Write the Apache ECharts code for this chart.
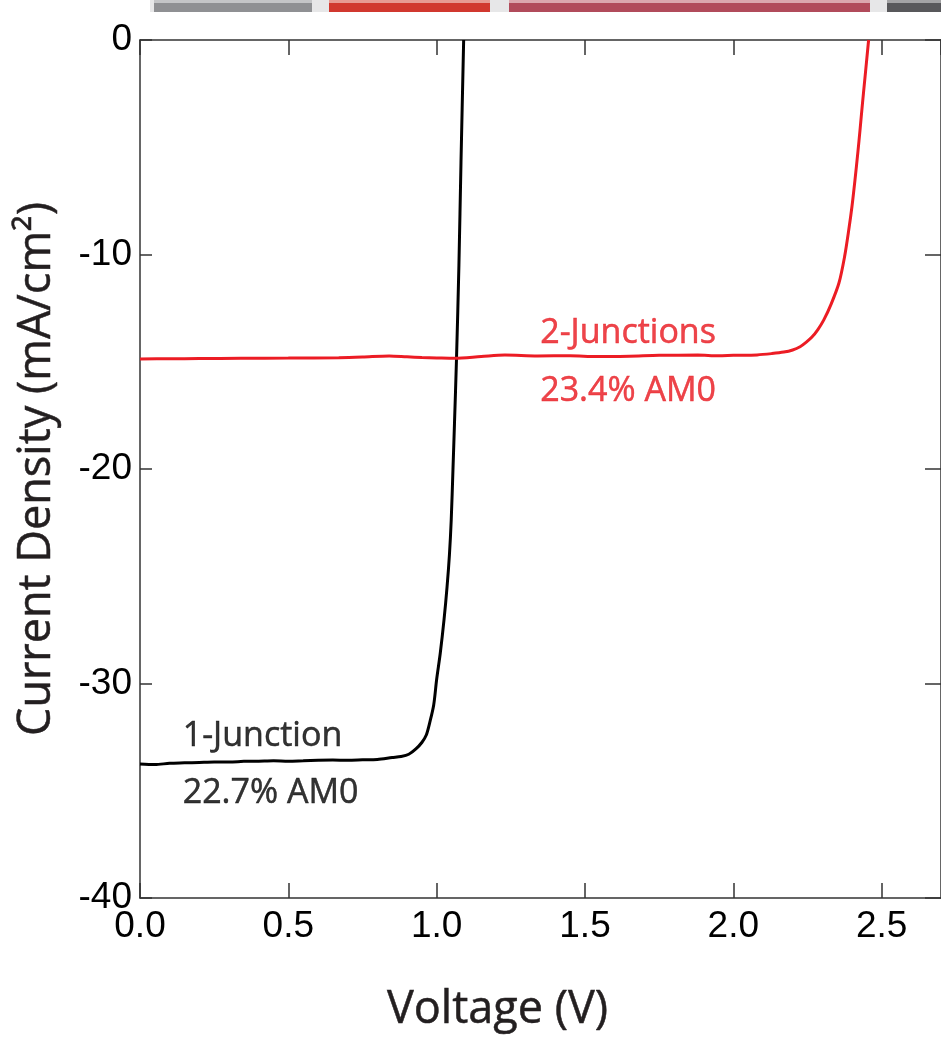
<!DOCTYPE html>
<html>
<head>
    <meta charset="utf-8">
    <title>J-V curves</title>
    <script src="https://cdn.jsdelivr.net/npm/echarts@6/dist/echarts.min.js"></script>
    <style>
        html, body { margin: 0; padding: 0; background: #fff; }
        #main { width: 941px; height: 1039px; }
    </style>
</head>
<body>
<div id="main"></div>
<script type="text/javascript">
  // 1-Junction curve (voltage V, current density mA/cm2)
  var oneJuncV = [0.00, 0.05, 0.10, 0.15, 0.20, 0.25, 0.30, 0.35, 0.40, 0.45, 0.50, 0.55, 0.60, 0.65, 0.70, 0.75, 0.80, 0.85, 0.88, 0.906, 0.93, 0.95, 0.965, 0.977, 0.99, 1.000, 1.012, 1.025, 1.035, 1.043, 1.049, 1.055, 1.060, 1.067, 1.075, 1.082, 1.091];
  var oneJuncJ = [-33.75, -33.78, -33.72, -33.70, -33.68, -33.66, -33.66, -33.63, -33.62, -33.60, -33.62, -33.60, -33.58, -33.57, -33.58, -33.56, -33.54, -33.45, -33.40, -33.30, -33.05, -32.75, -32.40, -31.80, -31.00, -29.80, -28.60, -27.00, -25.50, -24.00, -22.40, -20.00, -17.90, -14.80, -10.50, -5.70, 0];

  // 2-Junctions curve
  var twoJuncV = [0.00, 0.10, 0.20, 0.34, 0.50, 0.67, 0.75, 0.84, 0.90, 0.95, 1.00, 1.06, 1.15, 1.23, 1.34, 1.45, 1.54, 1.65, 1.75, 1.88, 1.95, 2.00, 2.08, 2.13, 2.17, 2.20, 2.225, 2.245, 2.265, 2.285, 2.305, 2.33, 2.356, 2.375, 2.389, 2.40, 2.41, 2.42, 2.427, 2.435, 2.443, 2.456];
  var twoJuncJ = [-14.87, -14.86, -14.85, -14.84, -14.83, -14.81, -14.78, -14.73, -14.77, -14.80, -14.82, -14.84, -14.76, -14.69, -14.73, -14.72, -14.76, -14.74, -14.70, -14.69, -14.72, -14.70, -14.68, -14.62, -14.55, -14.45, -14.30, -14.10, -13.85, -13.50, -13.05, -12.30, -11.33, -10.10, -8.86, -7.75, -6.53, -5.20, -4.20, -3.00, -1.86, 0];

  // text annotations
  var noteText = ['1-Junction', '22.7% AM0', '2-Junctions', '23.4% AM0'];
  var noteV = [0.144, 0.144, 1.349, 1.349];
  var noteJ = [-32.45, -35.1, -13.66, -16.36];
  var noteColor = ['#000', '#000', '#e8151d', '#e8151d'];

  var xTicks = [0, 0.5, 1.0, 1.5, 2.0, 2.5];

  function pairs(xs, ys) {
    var out = [];
    for (var i = 0; i < xs.length; i++) out.push([xs[i], ys[i]]);
    return out;
  }

  var notes = [];
  for (var i = 0; i < noteText.length; i++) {
    notes.push({
      value: [noteV[i], noteJ[i]],
      name: noteText[i],
      label: { color: noteColor[i], textBorderColor: noteColor[i] }
    });
  }

  var axisLineStyle = { color: '#333', width: 1.5 };
  var labelFont = 'Liberation Sans';
  var nameFont = 'Open Sans';

  var myChart = echarts.init(document.getElementById('main'));
  var option = {
    animation: false,
    backgroundColor: '#fff',
    grid: { left: 140, top: 40, width: 805, height: 858 },
    graphic: [
      { type: 'rect', shape: { x: 150, y: 0, width: 791, height: 12 }, style: { fill: '#e7e7e8' } },
      { type: 'rect', shape: { x: 154, y: 0, width: 158, height: 12 }, style: { fill: '#8f9093' } },
      { type: 'rect', shape: { x: 154, y: 0, width: 158, height: 3 }, style: { fill: '#c4c5c7' } },
      { type: 'rect', shape: { x: 329, y: 0, width: 161, height: 12 }, style: { fill: '#d1382f' } },
      { type: 'rect', shape: { x: 329, y: 0, width: 161, height: 3 }, style: { fill: '#e79a93' } },
      { type: 'rect', shape: { x: 509, y: 0, width: 361, height: 12 }, style: { fill: '#b14b5b' } },
      { type: 'rect', shape: { x: 509, y: 0, width: 361, height: 3 }, style: { fill: '#dba7ae' } },
      { type: 'rect', shape: { x: 887, y: 0, width: 54, height: 12 }, style: { fill: '#58585b' } },
      { type: 'rect', shape: { x: 887, y: 0, width: 54, height: 3 }, style: { fill: '#a3a3a5' } }
    ],
    xAxis: [
      {
        type: 'value', min: 0, max: 2.7, interval: 0.5, position: 'bottom',
        name: 'Voltage (V)', nameLocation: 'middle', nameGap: 90,
        nameTextStyle: {
          fontFamily: nameFont, fontSize: 45, color: '#231f20', padding: [0, 86, 0, 0],
          textBorderColor: '#231f20', textBorderWidth: 0.5
        },
        axisLine: { onZero: false, lineStyle: axisLineStyle },
        axisTick: { inside: true, length: 15, lineStyle: axisLineStyle },
        axisLabel: {
          fontFamily: labelFont, fontSize: 37, color: '#000', margin: 10, showMaxLabel: false,
          formatter: function (v) { return xTicks.indexOf(v) >= 0 ? v.toFixed(1) : ''; }
        },
        splitLine: { show: false }
      },
      {
        type: 'value', min: 0, max: 2.7, interval: 0.5, position: 'top',
        axisLine: { onZero: false, lineStyle: axisLineStyle },
        axisTick: { inside: true, length: 15, lineStyle: axisLineStyle },
        axisLabel: { show: false },
        splitLine: { show: false }
      }
    ],
    yAxis: [
      {
        type: 'value', min: -40, max: 0, interval: 10, position: 'left',
        name: 'Current Density (mA/cm²)', nameLocation: 'middle', nameGap: 80,
        nameTextStyle: {
          fontFamily: nameFont, fontSize: 45, color: '#231f20',
          textBorderColor: '#231f20', textBorderWidth: 0.5
        },
        axisLine: { onZero: false, lineStyle: axisLineStyle },
        axisTick: { inside: true, length: 12, lineStyle: axisLineStyle },
        axisLabel: { fontFamily: labelFont, fontSize: 37, color: '#000', margin: 8 },
        splitLine: { show: false }
      },
      {
        type: 'value', min: -40, max: 0, interval: 10, position: 'right',
        axisLine: { onZero: false, lineStyle: axisLineStyle },
        axisTick: { inside: true, length: 16, lineStyle: axisLineStyle },
        axisLabel: { show: false },
        splitLine: { show: false }
      }
    ],
    series: [
      {
        name: '1-Junction', type: 'line', symbol: 'none', smooth: 0.3,
        data: pairs(oneJuncV, oneJuncJ),
        lineStyle: { color: '#000', width: 3 }
      },
      {
        name: '2-Junctions', type: 'line', symbol: 'none', smooth: 0.3,
        data: pairs(twoJuncV, twoJuncJ),
        lineStyle: { color: '#ec1c24', width: 3 }
      },
      {
        name: 'notes', type: 'scatter', symbolSize: 0, silent: true,
        data: notes,
        label: {
          show: true, position: 'right', distance: 0,
          formatter: '{b}', fontFamily: nameFont, fontSize: 34, textBorderWidth: 0.5
        }
      }
    ]
  };
  myChart.setOption(option);
</script>
</body>
</html>
